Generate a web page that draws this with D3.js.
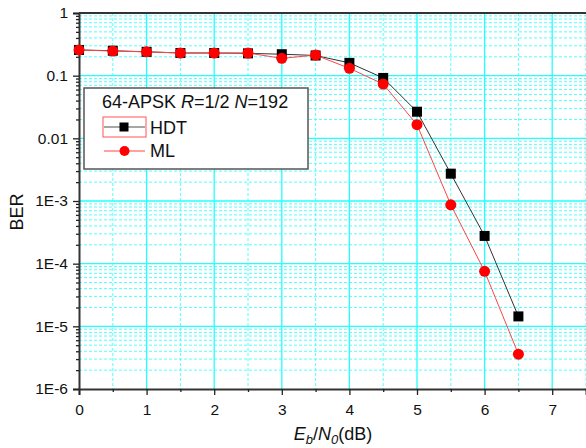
<!DOCTYPE html>
<html><head><meta charset="utf-8">
<script src="https://cdn.jsdelivr.net/npm/d3@7"></script>
<style>body{margin:0;background:#fff}svg{display:block}text{font-family:"Liberation Sans",Arial,sans-serif;fill:#111}</style>
</head><body><svg id="c" width="586" height="448"></svg>
<script>
const ebn0 = [0,0.5,1,1.5,2,2.5,3,3.5,4,4.5,5,5.5,6,6.5];
const berHDT = [0.257,0.25,0.24,0.23,0.23,0.227,0.22,0.21,0.16,0.092,0.0266,0.00273,2.77e-4,1.44e-5];
const berML  = [0.257,0.247,0.24,0.23,0.23,0.23,0.189,0.213,0.131,0.0736,0.0165,8.7e-4,7.55e-5,3.6e-6];
const xTicks = [0,1,2,3,4,5,6,7];
const yTicks = [1,0.1,0.01,1e-3,1e-4,1e-5,1e-6];
const yTickLabels = ["1","0.1","0.01","1E-3","1E-4","1E-5","1E-6"];
const legendTitle = "64-APSK R=1/2 N=192";
const seriesNames = ["HDT","ML"];

const svg = d3.select("#c");
const L=79, R=586, T=13, B=389;
const x = d3.scaleLinear().domain([0,7.5]).range([L,R]);
const y = d3.scaleLog().domain([1e-6,1]).range([B,T]);

const minorY=[];
for(let e=-6;e<0;e++) for(let m=2;m<=9;m++) minorY.push(m*Math.pow(10,e));
const minorX=d3.range(0.5,7.6,1);

const g=svg.append("g");
g.selectAll(".my").data(minorY).enter().append("line")
 .attr("x1",L).attr("x2",R).attr("y1",d=>y(d)).attr("y2",d=>y(d))
 .attr("stroke","#5ff").attr("stroke-width",1).attr("stroke-dasharray","3,2");
g.selectAll(".mx").data(minorX).enter().append("line")
 .attr("y1",T).attr("y2",B).attr("x1",d=>x(d)).attr("x2",d=>x(d))
 .attr("stroke","#5ff").attr("stroke-width",1).attr("stroke-dasharray","3,2");
g.selectAll(".My").data(yTicks.slice(1,-1)).enter().append("line")
 .attr("x1",L).attr("x2",R).attr("y1",d=>y(d)).attr("y2",d=>y(d))
 .attr("stroke","#2ff").attr("stroke-width",1.3);
g.selectAll(".Mx").data(xTicks.slice(1)).enter().append("line")
 .attr("y1",T).attr("y2",B).attr("x1",d=>x(d)).attr("x2",d=>x(d))
 .attr("stroke","#2ff").attr("stroke-width",1.3);

const xAxis = d3.axisBottom(x).tickValues(xTicks).tickSize(6).tickFormat(d3.format("d"));
const gx = svg.append("g").attr("transform",`translate(0,${B})`).call(xAxis);
gx.selectAll(".tick text").attr("font-size",15.5).attr("y",15);
svg.append("g").attr("transform",`translate(0,${B})`)
 .call(d3.axisBottom(x).tickValues(minorX).tickSize(3).tickFormat(""))
 .call(s=>s.select(".domain").remove());

const yAxis = d3.axisLeft(y).tickValues(yTicks).tickSize(6).tickFormat((d,i)=>yTickLabels[i]);
const gy = svg.append("g").attr("transform",`translate(${L},0)`).call(yAxis);
gy.selectAll(".tick text").attr("font-size",15.5).attr("x",-11);
svg.append("g").attr("transform",`translate(${L},0)`)
 .call(d3.axisLeft(y).tickValues(minorY).tickSize(3).tickFormat(""))
 .call(s=>s.select(".domain").remove());
svg.selectAll(".domain").attr("stroke","#333").attr("stroke-width",2);
svg.selectAll(".tick line").attr("stroke","#222").attr("stroke-width",1.3);
svg.append("line").attr("x1",L).attr("x2",R).attr("y1",T).attr("y2",T).attr("stroke","#333").attr("stroke-width",2);

const line = d3.line().x((d,i)=>x(ebn0[i])).y(d=>y(d));
svg.append("path").datum(berHDT).attr("d",line).attr("fill","none").attr("stroke","#333").attr("stroke-width",1);
svg.append("path").datum(berML).attr("d",line).attr("fill","none").attr("stroke","#f44").attr("stroke-width",1);
svg.selectAll(".sq").data(berHDT).enter().append("rect")
 .attr("x",(d,i)=>x(ebn0[i])-5).attr("y",d=>y(d)-5).attr("width",10).attr("height",10).attr("fill","#000");
svg.selectAll(".ci").data(berML).enter().append("circle")
 .attr("cx",(d,i)=>x(ebn0[i])).attr("cy",d=>y(d)).attr("r",5.5).attr("fill","#f00");

const lg=svg.append("g");
lg.append("rect").attr("x",84).attr("y",88).attr("width",224).attr("height",81)
 .attr("fill","#fff").attr("stroke","#555").attr("stroke-width",1.5);
const tt=lg.append("text").attr("x",102).attr("y",108).attr("font-size",18);
const parts=legendTitle.split(/(R|N)(?==)/);
parts.forEach(p=>{ tt.append("tspan").text(p).attr("font-style",(p==="R"||p==="N")?"italic":null); });
lg.append("rect").attr("x",103).attr("y",117).attr("width",43).attr("height",20).attr("fill","none").attr("stroke","#f55").attr("stroke-width",1);
lg.append("line").attr("x1",104).attr("x2",145).attr("y1",127).attr("y2",127).attr("stroke","#888").attr("stroke-width",1.5);
lg.append("rect").attr("x",119.5).attr("y",122.5).attr("width",9).attr("height",9).attr("fill","#000");
lg.append("text").attr("x",150).attr("y",134).attr("font-size",18).text(seriesNames[0]);
lg.append("line").attr("x1",104).attr("x2",145).attr("y1",151).attr("y2",151).attr("stroke","#f44").attr("stroke-width",1);
lg.append("circle").attr("cx",124.5).attr("cy",151).attr("r",5).attr("fill","#f00");
lg.append("text").attr("x",150).attr("y",157).attr("font-size",18).text(seriesNames[1]);

svg.append("text").attr("transform","translate(23,212) rotate(-90)").attr("text-anchor","middle").attr("font-size",18).text("BER");
const xt=svg.append("text").attr("x",333).attr("y",440).attr("text-anchor","middle").attr("font-size",18);
xt.append("tspan").attr("font-style","italic").text("E");
xt.append("tspan").attr("font-style","italic").attr("font-size",13).attr("dy",4).text("b");
xt.append("tspan").attr("dy",-4).text("/");
xt.append("tspan").attr("font-style","italic").text("N");
xt.append("tspan").attr("font-style","italic").attr("font-size",13).attr("dy",4).text("0");
xt.append("tspan").attr("dy",-4).text("(dB)");
</script></body></html>
